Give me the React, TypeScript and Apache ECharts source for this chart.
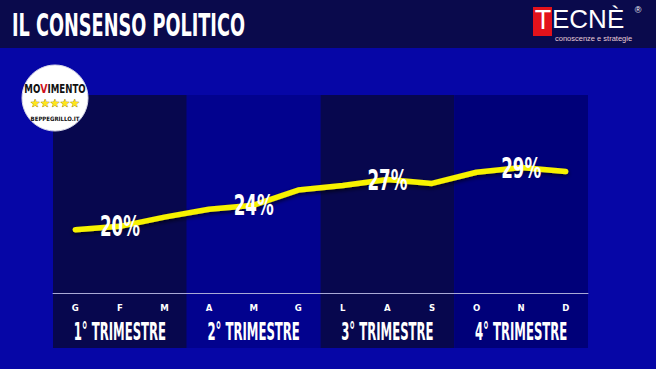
import { useEffect, useRef } from 'react';
import * as echarts from 'echarts';

const monthKeys = ['Gen', 'Feb', 'Mar', 'Apr', 'Mag', 'Giu', 'Lug', 'Ago', 'Set', 'Ott', 'Nov', 'Dic'];
const monthLetters = ['G', 'F', 'M', 'A', 'M', 'G', 'L', 'A', 'S', 'O', 'N', 'D'];
const consenso = [19.6, 20.1, 21.5, 22.7, 23.3, 25.6, 26.3, 27.2, 26.6, 28.3, 29.0, 28.4];
const quarters = ['1° TRIMESTRE', '2° TRIMESTRE', '3° TRIMESTRE', '4° TRIMESTRE'];
const quarterValues = [20, 24, 27, 29];
const quarterLabelMonth = [1, 4, 7, 10];
const bandFill = [1, 1, 1, 1];

const bandColors = ['#07074e', '#02028e', '#07074e', '#000079'];
const NARROW = '"Liberation Sans Narrow", "DejaVu Sans Condensed", "Roboto Condensed", sans-serif';
const PLAIN = '"Liberation Sans", Arial, sans-serif';

export default function App() {
  const ref = useRef<HTMLDivElement>(null);
  useEffect(() => {
    if (!ref.current) return;
    const chart = echarts.init(ref.current, undefined, { renderer: 'svg' });
    chart.setOption({
      animation: false,
      backgroundColor: '#0606a6',
      grid: [
        { left: 53, right: 68, top: 95, bottom: 76 },
        { left: 53, right: 68, top: 95, bottom: 21 },
      ],
      xAxis: [
        {
          gridIndex: 0, type: 'category', data: monthKeys, boundaryGap: true, z: 6,
          axisLine: { lineStyle: { color: '#a9a9d6', width: 1 } },
          axisTick: { show: false },
          axisLabel: {
            interval: 0,
            formatter: (_v: string, i: number) => monthLetters[i],
            color: '#fff', fontSize: 9.5, fontWeight: 'bold', fontFamily: NARROW, margin: 9,
          },
        },
        { gridIndex: 1, type: 'category', data: quarters, show: false },
      ],
      yAxis: [
        { gridIndex: 0, type: 'value', min: 10, max: 40, show: false },
        { gridIndex: 1, type: 'value', min: 0, max: 1, show: false },
      ],
      series: [
        {
          type: 'bar', xAxisIndex: 1, yAxisIndex: 1, silent: true, z: 0,
          barWidth: '100%', barCategoryGap: 0,
          data: bandFill.map((v, i) => ({ value: v, itemStyle: { color: bandColors[i] } })),
        },
        {
          type: 'line', xAxisIndex: 0, yAxisIndex: 0, z: 5,
          data: consenso,
          symbol: 'none',
          lineStyle: {
            color: '#f7f200', width: 5.5, cap: 'round', join: 'round',
            shadowColor: 'rgba(0,0,0,0.7)', shadowBlur: 4, shadowOffsetY: 2,
          },
        },
      ],
    });

    const valueLabels = quarterLabelMonth.map((m, q) => {
      const p = chart.convertToPixel({ seriesIndex: 1 }, [m, consenso[m]]) as number[];
      return {
        type: 'text', x: p[0], y: p[1], scaleX: 0.64, z: 30,
        style: {
          text: `${quarterValues[q]}%`, fill: '#fff', fontSize: 29, fontWeight: 'bold', fontFamily: NARROW,
          textAlign: 'center', textVerticalAlign: 'middle', shadowColor: 'rgba(0,0,0,0.95)', shadowBlur: 6,
        },
      };
    });
    const quarterLabels = quarters.map((qName, i) => {
      const x = chart.convertToPixel({ xAxisIndex: 1 }, i) as number;
      return {
        type: 'text', x, y: 332, scaleX: 0.52, z: 30,
        style: {
          text: qName, fill: '#fff', fontSize: 25, fontWeight: 'bold', fontFamily: NARROW,
          textAlign: 'center', textVerticalAlign: 'middle', shadowColor: 'rgba(0,0,0,0.95)', shadowBlur: 6,
        },
      };
    });

    chart.setOption({
      graphic: [
        { type: 'rect', z: -10, shape: { x: 0, y: 0, width: 656, height: 48 }, style: { fill: '#0a0a4c' } },
        {
          type: 'text', x: 12, y: 25, scaleX: 0.615, z: 10,
          style: {
            text: 'IL CONSENSO POLITICO', fill: '#fff', fontSize: 32, fontWeight: 'bold', fontFamily: NARROW,
            textAlign: 'left', textVerticalAlign: 'middle', shadowColor: 'rgba(0,0,0,0.9)', shadowBlur: 4,
          },
        },
        { type: 'rect', z: 10, shape: { x: 533, y: 7, width: 19, height: 29 }, style: { fill: '#e3121b' } },
        {
          type: 'text', x: 543, y: 33, z: 11,
          style: { text: 'T', fill: '#fff', fontSize: 27, fontFamily: PLAIN, textAlign: 'center', textVerticalAlign: 'bottom' },
        },
        {
          type: 'text', x: 552, y: 32, z: 11,
          style: { text: 'ECNÈ', fill: '#fff', fontSize: 26, fontFamily: PLAIN, textAlign: 'left', textVerticalAlign: 'bottom' },
        },
        {
          type: 'text', x: 638, y: 10, z: 11,
          style: { text: '®', fill: '#fff', fontSize: 9, fontFamily: PLAIN, textAlign: 'center', textVerticalAlign: 'middle' },
        },
        {
          type: 'text', x: 555, y: 34, z: 11,
          style: { text: 'conoscenze e strategie', fill: '#e9cdd6', fontSize: 7.5, fontFamily: PLAIN, textAlign: 'left', textVerticalAlign: 'top' },
        },
        { type: 'circle', z: 20, shape: { cx: 55, cy: 98, r: 33 }, style: { fill: '#ffffff', stroke: '#d8d8e8', lineWidth: 1 } },
        {
          type: 'text', x: 55, y: 89, scaleX: 0.8, z: 21,
          style: {
            text: '{a|MO}{b|V}{a|IMENTO}', textAlign: 'center', textVerticalAlign: 'middle',
            rich: {
              a: { fill: '#111', fontSize: 12, fontWeight: 'bold', fontFamily: NARROW },
              b: { fill: '#d0101a', fontSize: 13, fontWeight: 'bold', fontFamily: NARROW },
            },
          },
        },
        {
          type: 'text', x: 55, y: 103, z: 21,
          style: {
            text: '★★★★★', fill: '#ffe51a', stroke: '#8a7200', lineWidth: 0.6, fontSize: 11,
            fontFamily: '"DejaVu Sans", sans-serif', textAlign: 'center', textVerticalAlign: 'middle',
          },
        },
        {
          type: 'text', x: 55, y: 118, z: 21,
          style: {
            text: 'BEPPEGRILLO.IT', fill: '#111', fontSize: 6, fontWeight: 'bold', fontFamily: NARROW,
            textAlign: 'center', textVerticalAlign: 'middle',
          },
        },
        ...valueLabels,
        ...quarterLabels,
      ],
    });
    return () => chart.dispose();
  }, []);
  return (
    <div
      ref={ref}
      style={{ position: 'fixed', left: 0, top: 0, width: 656, height: 369 }}
    />
  );
}
